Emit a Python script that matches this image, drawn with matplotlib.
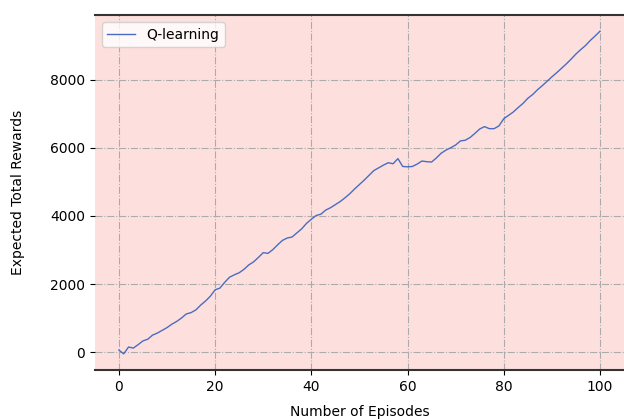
import numpy as np
import matplotlib
matplotlib.use('Agg')
import matplotlib.pyplot as plt

# episode index and reward
episodes = np.arange(101)
rewards = [60, -50, 150, 120, 220, 330, 380, 500, 560, 640,
           720, 820, 900, 1000, 1120, 1160, 1240, 1380, 1500, 1640,
           1830, 1880, 2050, 2200, 2270, 2330, 2430, 2560, 2650, 2780,
           2920, 2900, 3010, 3150, 3280, 3350, 3380, 3500, 3620, 3780,
           3900, 4010, 4050, 4170, 4240, 4330, 4420, 4530, 4650, 4790,
           4920, 5050, 5190, 5330, 5410, 5490, 5560, 5530, 5680, 5450,
           5440, 5450, 5520, 5610, 5590, 5580, 5700, 5840, 5930, 6000,
           6080, 6200, 6220, 6300, 6420, 6550, 6620, 6560, 6560, 6640,
           6850, 6950, 7050, 7180, 7300, 7450, 7560, 7700, 7820, 7950,
           8080, 8200, 8330, 8460, 8600, 8750, 8880, 9000, 9150, 9280,
           9420]

fig = plt.figure(figsize=(6.24, 4.19), dpi=100)
ax = fig.add_axes([0.152, 0.117, 0.848, 0.847])
ax.set_facecolor('#fde0dd')

ax.plot(episodes, rewards, color='#4a6cc0', lw=1.0, label='Q-learning')

ax.grid(True, linestyle='-.', color='#ababab', lw=0.8)
ax.set_axisbelow(True)
for s in ['left', 'right']:
    ax.spines[s].set_visible(False)
for s in ['top', 'bottom']:
    ax.spines[s].set_color('#333333')
    ax.spines[s].set_linewidth(1.5)

ax.set_xticks([0, 20, 40, 60, 80, 100])
ax.set_yticks([0, 2000, 4000, 6000, 8000])
ax.tick_params(labelsize=10)
ax.set_xlabel('Number of Episodes', fontsize=10, labelpad=8)
ax.set_ylabel('Expected Total Rewards', fontsize=10, labelpad=18)
ax.legend(loc='upper left', fontsize=10)

fig.savefig('out.png', dpi=100)
